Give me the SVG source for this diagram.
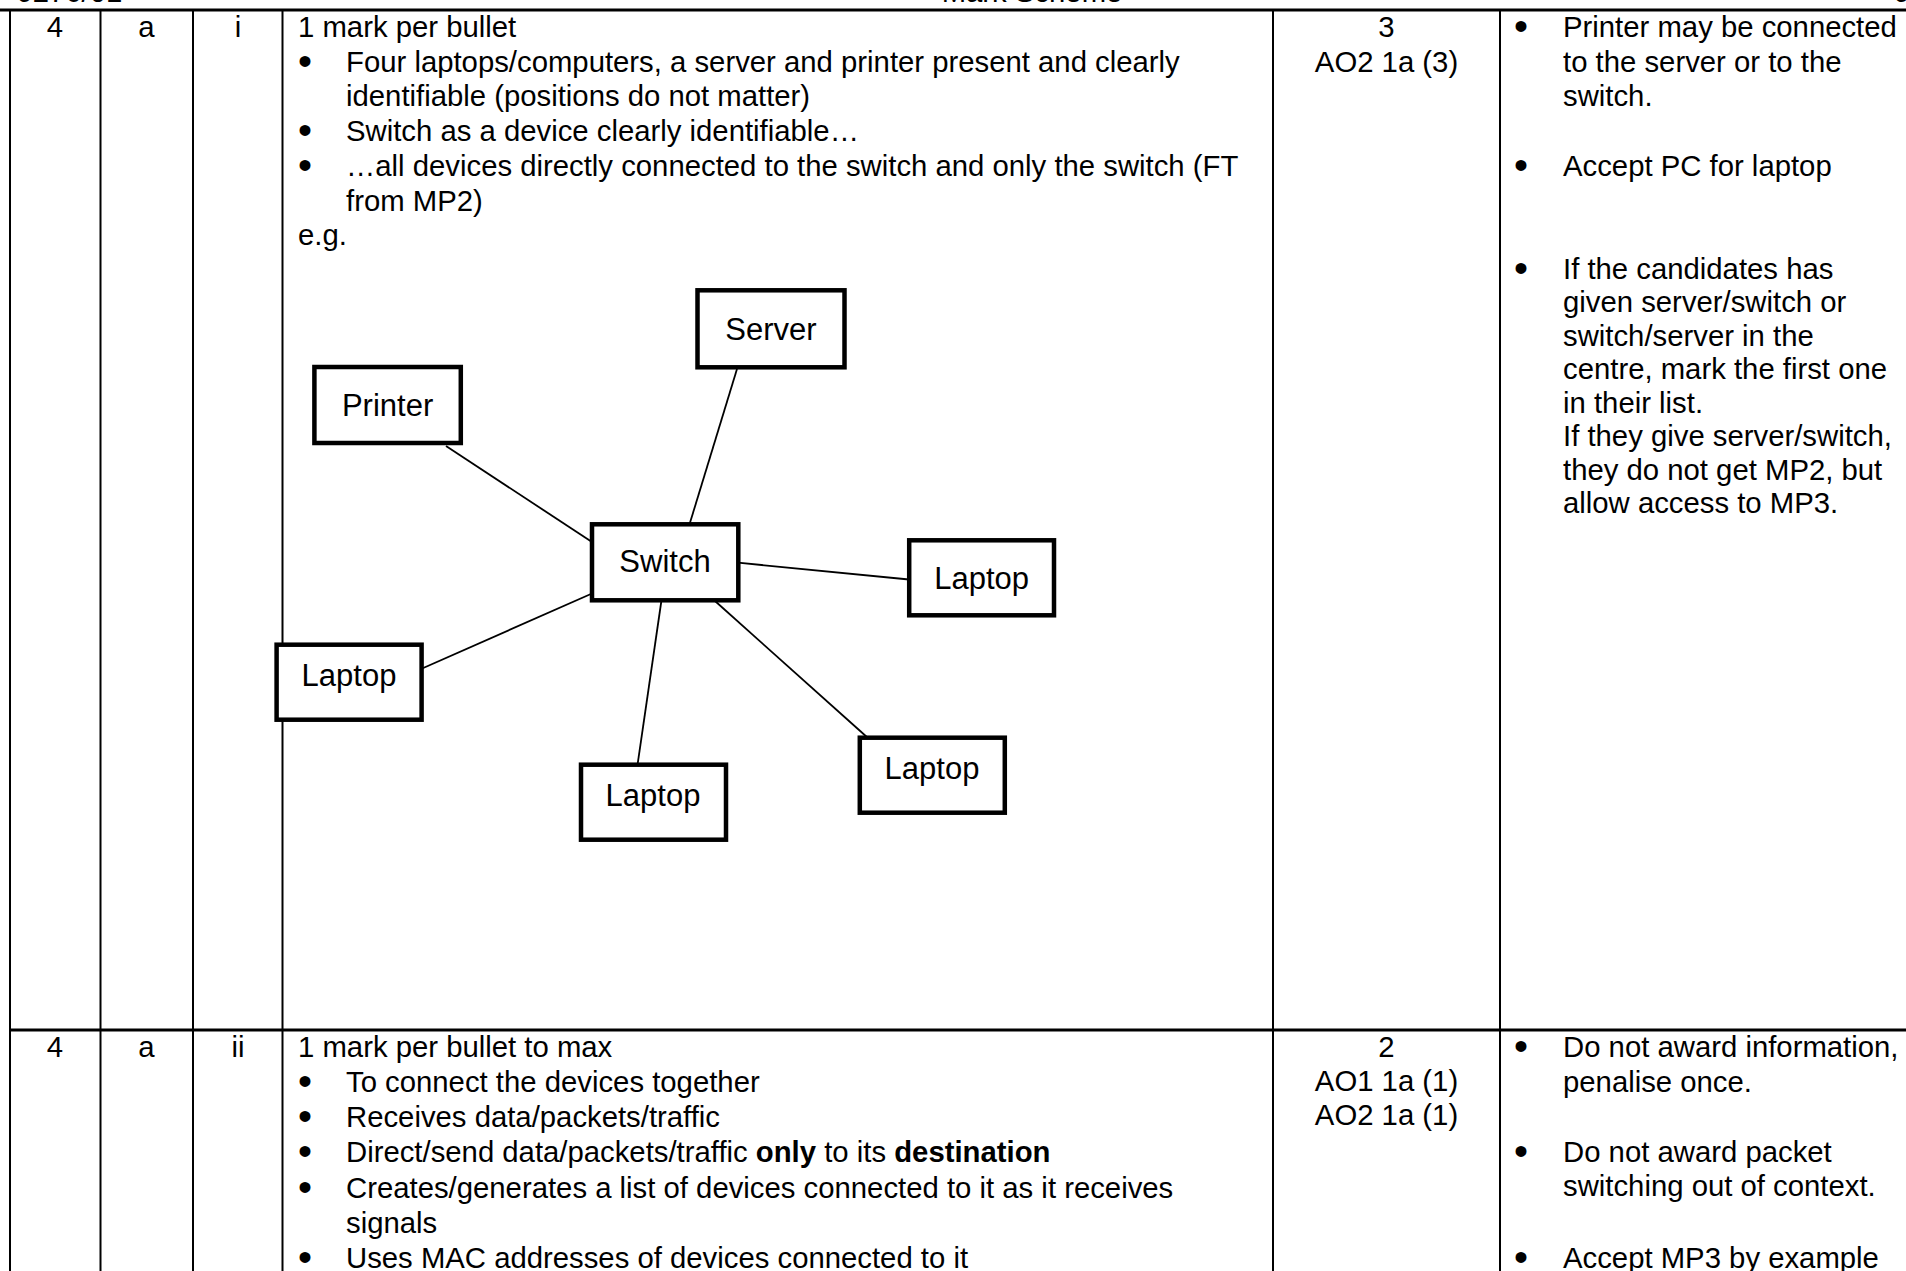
<svg xmlns="http://www.w3.org/2000/svg" width="1906" height="1271" viewBox="0 0 1906 1271">
<style>
text{font-family:"Liberation Sans",Arial,sans-serif;font-size:29.3px;fill:#000}
.c{text-anchor:middle}
.b{font-weight:bold}
.bu{text-anchor:middle;font-size:40px}
.grid{stroke:#000;stroke-width:2;fill:none}
.hr{stroke:#000;stroke-width:3;fill:none}
.box rect{fill:#fff;stroke:#000;stroke-width:4.5}
.box text{font-size:31px;text-anchor:middle}
.conn line{stroke:#000;stroke-width:1.8}
</style>
<rect x="0" y="0" width="1906" height="1271" fill="#fff"/>
<g id="header">
<text x="18" y="2">J276/01</text>
<text class="c" x="1032" y="2">Mark Scheme</text>
<text x="1895" y="2">June 2018</text>
</g>
<g id="table">
<line class="hr" x1="0" y1="10" x2="1906" y2="10"/>
<line class="hr" x1="10" y1="1030" x2="1906" y2="1030"/>
<line class="grid" x1="10" y1="10" x2="10" y2="1271"/>
<line class="grid" x1="100.5" y1="10" x2="100.5" y2="1271"/>
<line class="grid" x1="193" y1="10" x2="193" y2="1271"/>
<line class="grid" x1="282.5" y1="10" x2="282.5" y2="1271"/>
<line class="grid" x1="1273" y1="10" x2="1273" y2="1271"/>
<line class="grid" x1="1500" y1="10" x2="1500" y2="1271"/>
</g>
<g id="row1">
<text class="c" x="55" y="37">4</text>
<text class="c" x="146.5" y="37">a</text>
<text class="c" x="238" y="37">i</text>
<text x="298" y="37">1 mark per bullet</text>
<text class="bu" x="305" y="75">•</text>
<text x="346" y="72">Four laptops/computers, a server and printer present and clearly</text>
<text x="346" y="106">identifiable (positions do not matter)</text>
<text class="bu" x="305" y="144">•</text>
<text x="346" y="141">Switch as a device clearly identifiable…</text>
<text class="bu" x="305" y="179">•</text>
<text x="346" y="176">…all devices directly connected to the switch and only the switch (FT</text>
<text x="346" y="211">from MP2)</text>
<text x="298" y="245">e.g.</text>
<text class="c" x="1386.5" y="37">3</text>
<text class="c" x="1386.5" y="72">AO2 1a (3)</text>
<text class="bu" x="1521" y="40">•</text>
<text x="1563" y="37">Printer may be connected</text>
<text x="1563" y="71.5">to the server or to the</text>
<text x="1563" y="106">switch.</text>
<text class="bu" x="1521" y="179">•</text>
<text x="1563" y="176">Accept PC for laptop</text>
<text class="bu" x="1521" y="281.5">•</text>
<text x="1563" y="278.5">If the candidates has</text>
<text x="1563" y="312">given server/switch or</text>
<text x="1563" y="345.5">switch/server in the</text>
<text x="1563" y="379">centre, mark the first one</text>
<text x="1563" y="412.5">in their list.</text>
<text x="1563" y="446">If they give server/switch,</text>
<text x="1563" y="479.5">they do not get MP2, but</text>
<text x="1563" y="513">allow access to MP3.</text>
</g>
<g id="connectors" class="conn">
<line x1="446" y1="446" x2="592" y2="542"/>
<line x1="737" y1="369" x2="689" y2="526"/>
<line x1="738" y1="562.7" x2="909" y2="579.5"/>
<line x1="592" y1="593.5" x2="421" y2="669"/>
<line x1="661.5" y1="600" x2="637.5" y2="765"/>
<line x1="715" y1="601" x2="868" y2="738"/>
</g>
<g id="node-server" class="box"><rect x="697.5" y="290.3" width="147" height="77"/><text x="771" y="339.5">Server</text></g>
<g id="node-printer" class="box"><rect x="314.4" y="367" width="146.4" height="76"/><text x="387.6" y="416">Printer</text></g>
<g id="node-switch" class="box"><rect x="592" y="524.3" width="146.3" height="76"/><text x="665" y="572">Switch</text></g>
<g id="node-laptop-right" class="box"><rect x="909.2" y="540.3" width="144.8" height="75"/><text x="981.6" y="588.5">Laptop</text></g>
<g id="node-laptop-left" class="box"><rect x="276.6" y="644.7" width="145" height="75"/><text x="349" y="685.5">Laptop</text></g>
<g id="node-laptop-bottom" class="box"><rect x="581" y="764.7" width="145" height="75"/><text x="653" y="805.5">Laptop</text></g>
<g id="node-laptop-bottom-right" class="box"><rect x="859.8" y="737.7" width="145" height="75"/><text x="932" y="778.5">Laptop</text></g>
<g id="row2">
<text class="c" x="55" y="1057">4</text>
<text class="c" x="146.5" y="1057">a</text>
<text class="c" x="238" y="1057">ii</text>
<text x="298" y="1057">1 mark per bullet to max</text>
<text class="bu" x="305" y="1095">•</text>
<text x="346" y="1092">To connect the devices together</text>
<text class="bu" x="305" y="1130">•</text>
<text x="346" y="1127">Receives data/packets/traffic</text>
<text class="bu" x="305" y="1165">•</text>
<text x="346" y="1162">Direct/send data/packets/traffic <tspan class="b">only</tspan> to its <tspan class="b">destination</tspan></text>
<text class="bu" x="305" y="1201">•</text>
<text x="346" y="1198">Creates/generates a list of devices connected to it as it receives</text>
<text x="346" y="1233">signals</text>
<text class="bu" x="305" y="1271">•</text>
<text x="346" y="1268">Uses MAC addresses of devices connected to it</text>
<text class="c" x="1386.5" y="1057">2</text>
<text class="c" x="1386.5" y="1091">AO1 1a (1)</text>
<text class="c" x="1386.5" y="1125">AO2 1a (1)</text>
<text class="bu" x="1521" y="1060">•</text>
<text x="1563" y="1057">Do not award information,</text>
<text x="1563" y="1091.5">penalise once.</text>
<text class="bu" x="1521" y="1165">•</text>
<text x="1563" y="1162">Do not award packet</text>
<text x="1563" y="1196">switching out of context.</text>
<text class="bu" x="1521" y="1271">•</text>
<text x="1563" y="1268">Accept MP3 by example</text>
</g>
</svg>
